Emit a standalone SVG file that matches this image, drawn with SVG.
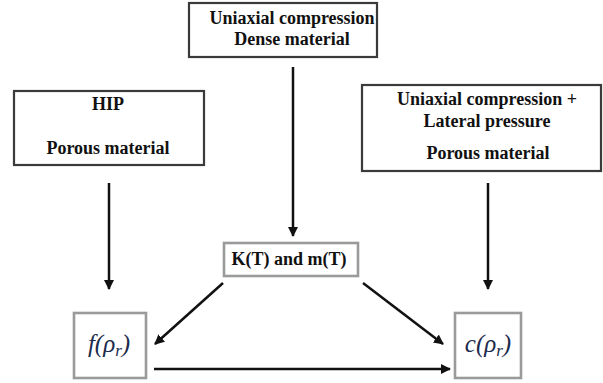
<svg xmlns="http://www.w3.org/2000/svg" width="603" height="383" viewBox="0 0 603 383">
<style>
.box{fill:#fff;stroke:#3a3a3a;stroke-width:2.2}
.gbox{fill:#fff;stroke:#9a9a9a;stroke-width:2.6}
.t{font-family:'Liberation Serif','DejaVu Serif',serif;font-weight:bold;font-size:18px;fill:#111;text-anchor:middle}
.m{font-family:'Liberation Serif','DejaVu Serif',serif;font-style:italic;font-size:25px;fill:#1c2b4d;text-anchor:middle}
.c{stroke:#111;stroke-width:2.5;fill:none;marker-end:url(#ah)}
</style>
<defs>
<marker id="ah" markerUnits="userSpaceOnUse" markerWidth="12" markerHeight="12" refX="9" refY="5" orient="auto">
<path d="M0,0 L10,5 L0,10 z" fill="#111"/>
</marker>
</defs>
<rect width="603" height="383" fill="#fff"/>
<g id="n-top">
<rect class="box" x="189" y="3" width="188" height="54"/>
<text class="t" x="292" y="24">Uniaxial compression</text>
<text class="t" x="292" y="45">Dense material</text>
</g>
<g id="n-hip">
<rect class="box" x="14" y="91" width="190" height="74"/>
<text class="t" x="108" y="110">HIP</text>
<text class="t" x="108" y="154">Porous material</text>
</g>
<g id="n-right">
<rect class="box" x="362" y="85" width="239" height="86"/>
<text class="t" x="487" y="105">Uniaxial compression +</text>
<text class="t" x="487" y="127">Lateral pressure</text>
<text class="t" x="488" y="159">Porous material</text>
</g>
<g id="n-k">
<rect class="gbox" x="224" y="243" width="134" height="33"/>
<text class="t" x="289" y="265">K(T) and m(T)</text>
</g>
<g id="n-f">
<rect class="gbox" x="74" y="313" width="72" height="65"/>
<text class="m" x="109" y="352">f(ρ<tspan font-size="17" dy="4">r</tspan><tspan dy="-4">)</tspan></text>
</g>
<g id="n-c">
<rect class="gbox" x="455" y="313" width="66" height="65"/>
<text class="m" x="488" y="352">c(ρ<tspan font-size="17" dy="4">r</tspan><tspan dy="-4">)</tspan></text>
</g>
<g id="connectors">
<line class="c" x1="293" y1="67" x2="293" y2="236"/>
<line class="c" x1="109" y1="183" x2="109" y2="289"/>
<line class="c" x1="488" y1="183" x2="488" y2="289"/>
<line class="c" x1="223" y1="283" x2="155" y2="344"/>
<line class="c" x1="363" y1="283" x2="443" y2="344"/>
<line class="c" x1="154" y1="369" x2="450" y2="369"/>
</g>
</svg>
